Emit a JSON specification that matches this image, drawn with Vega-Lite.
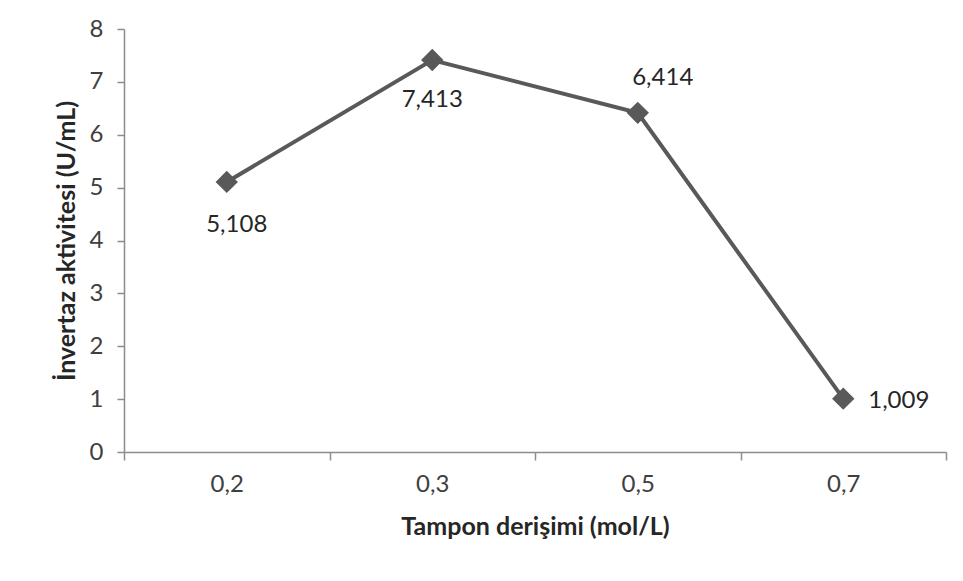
{
  "$schema": "https://vega.github.io/schema/vega-lite/v6.json",
  "autosize": {"type": "none"},
  "width": 822,
  "height": 423,
  "padding": {"left": 124, "top": 29, "right": 17, "bottom": 129},
  "background": "white",
  "config": {"view": {"stroke": null}, "font": "Lato"},
  "data": {"values": [
    {"c": "0,2", "v": 5.108, "lab": "5,108"},
    {"c": "0,3", "v": 7.413, "lab": "7,413"},
    {"c": "0,5", "v": 6.414, "lab": "6,414"},
    {"c": "0,7", "v": 1.009, "lab": "1,009"}
  ]},
  "encoding": {
    "x": {
      "field": "c", "type": "nominal", "sort": null,
      "scale": {"paddingInner": 0, "paddingOuter": 0},
      "axis": {
        "title": "Tampon derişimi (mol/L)", "labelAngle": 0, "tickBand": "extent",
        "domainColor": "#8c8c8c", "tickColor": "#8c8c8c", "tickSize": 8, "domainWidth": 1.5, "tickWidth": 1.5,
        "labelFontSize": 24, "labelColor": "#404040", "labelPadding": 12,
        "titleFontSize": 25, "titleFontWeight": "bold", "titleColor": "#262626", "titlePadding": 18
      }
    },
    "y": {
      "field": "v", "type": "quantitative",
      "scale": {"domain": [0, 8]},
      "axis": {
        "title": "İnvertaz aktivitesi (U/mL)", "grid": false, "values": [0,1,2,3,4,5,6,7,8], "labelOverlap": false,
        "domainColor": "#8c8c8c", "tickColor": "#8c8c8c", "tickSize": 7, "domainWidth": 1.5, "tickWidth": 1.5,
        "labelFontSize": 24, "labelColor": "#404040", "labelPadding": 14,
        "titleFontSize": 25, "titleFontWeight": "bold", "titleColor": "#262626", "titlePadding": 10
      }
    }
  },
  "layer": [
    {"mark": {"type": "line", "color": "#595959", "strokeWidth": 4}},
    {"mark": {"type": "point", "shape": "diamond", "filled": true, "color": "#595959", "size": 500, "opacity": 1}},
    {"transform": [{"filter": "datum.c == '0,2'"}],
     "mark": {"type": "text", "fontSize": 24, "color": "#262626", "dx": 10, "dy": 43},
     "encoding": {"text": {"field": "lab"}}},
    {"transform": [{"filter": "datum.c == '0,3'"}],
     "mark": {"type": "text", "fontSize": 24, "color": "#262626", "dx": 0, "dy": 40},
     "encoding": {"text": {"field": "lab"}}},
    {"transform": [{"filter": "datum.c == '0,5'"}],
     "mark": {"type": "text", "fontSize": 24, "color": "#262626", "dx": 25, "dy": -35},
     "encoding": {"text": {"field": "lab"}}},
    {"transform": [{"filter": "datum.c == '0,7'"}],
     "mark": {"type": "text", "fontSize": 24, "color": "#262626", "align": "left", "dx": 25, "dy": 2},
     "encoding": {"text": {"field": "lab"}}}
  ]
}
